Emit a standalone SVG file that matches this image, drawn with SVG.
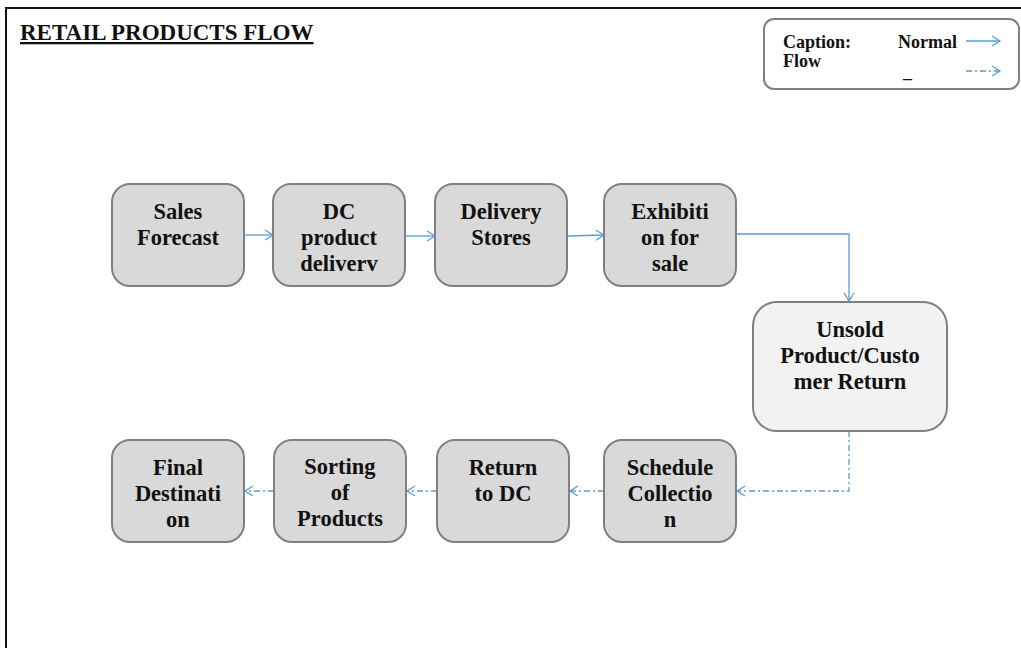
<svg xmlns="http://www.w3.org/2000/svg" width="1021" height="648" viewBox="0 0 1021 648">
<defs>
<style>
.node{fill:#d9d9d9;stroke:#808080;stroke-width:2}
.light{fill:#f2f2f2}
.t{font-family:"Liberation Serif","Times New Roman",serif;font-weight:bold;font-size:22.5px;fill:#111;text-anchor:middle}
.lg{font-family:"Liberation Serif","Times New Roman",serif;font-weight:bold;font-size:18px;fill:#111}
.c{fill:none;stroke:#5b9bd5;stroke-width:1.3}
.d{stroke-dasharray:6 3 2 3}
</style>
<marker id="ah" markerWidth="12" markerHeight="12" refX="10" refY="6" orient="auto" markerUnits="userSpaceOnUse">
<path d="M2,1 L10,6 L2,11" fill="none" stroke="#5b9bd5" stroke-width="1.3"/>
</marker>
</defs>
<rect width="1021" height="648" fill="#fff"/>
<path d="M6,648 V8 H1021" fill="none" stroke="#111" stroke-width="2"/>
<text x="20" y="40" class="lg" style="font-size:23px;text-decoration:underline">RETAIL PRODUCTS FLOW</text>
<g id="legend">
<rect x="764" y="19" width="255" height="70" rx="10" fill="#fff" stroke="#808080" stroke-width="2"/>
<text x="783" y="48" class="lg">Caption:</text>
<text x="783" y="67" class="lg">Flow</text>
<text x="898" y="48" class="lg">Normal</text>
<text x="903" y="78" class="lg">_</text>
<line x1="966" y1="41" x2="1000" y2="41" class="c" marker-end="url(#ah)"/>
<line x1="966" y1="71" x2="1000" y2="71" class="c d" marker-end="url(#ah)"/>
</g>
<g id="connectors">
<line x1="244" y1="235" x2="273" y2="235" class="c" marker-end="url(#ah)"/>
<line x1="405" y1="236" x2="435" y2="236" class="c" marker-end="url(#ah)"/>
<line x1="567" y1="236" x2="604" y2="235" class="c" marker-end="url(#ah)"/>
<path d="M736,234 H849 V301" class="c" marker-end="url(#ah)"/>
<path d="M849,431 V491 H737" class="c d" marker-end="url(#ah)"/>
<line x1="604" y1="491" x2="570" y2="491" class="c d" marker-end="url(#ah)"/>
<line x1="437" y1="491" x2="407" y2="491" class="c d" marker-end="url(#ah)"/>
<line x1="274" y1="491" x2="245" y2="491" class="c d" marker-end="url(#ah)"/>
</g>
<g id="sales-forecast">
<rect x="112" y="184" width="132" height="102" rx="18" class="node"/>
<text class="t" x="178" y="219">Sales</text>
<text class="t" x="178" y="245">Forecast</text>
</g>
<g id="dc-product-delivery">
<rect x="273" y="184" width="132" height="102" rx="18" class="node"/>
<text class="t" x="339" y="219">DC</text>
<text class="t" x="339" y="245">product</text>
<text class="t" x="339" y="271">deliverv</text>
</g>
<g id="delivery-stores">
<rect x="435" y="184" width="132" height="102" rx="18" class="node"/>
<text class="t" x="501" y="219">Delivery</text>
<text class="t" x="501" y="245">Stores</text>
</g>
<g id="exhibition">
<rect x="604" y="184" width="132" height="102" rx="18" class="node"/>
<text class="t" x="670" y="219">Exhibiti</text>
<text class="t" x="670" y="245">on for</text>
<text class="t" x="670" y="271">sale</text>
</g>
<g id="unsold">
<rect x="753" y="302" width="194" height="129" rx="24" class="node light"/>
<text class="t" x="850" y="337">Unsold</text>
<text class="t" x="850" y="363">Product/Custo</text>
<text class="t" x="850" y="389">mer Return</text>
</g>
<g id="schedule-collection">
<rect x="604" y="440" width="132" height="102" rx="18" class="node"/>
<text class="t" x="670" y="475">Schedule</text>
<text class="t" x="670" y="501">Collectio</text>
<text class="t" x="670" y="527">n</text>
</g>
<g id="return-to-dc">
<rect x="437" y="440" width="132" height="102" rx="18" class="node"/>
<text class="t" x="503" y="475">Return</text>
<text class="t" x="503" y="501">to DC</text>
</g>
<g id="sorting">
<rect x="274" y="440" width="132" height="102" rx="18" class="node"/>
<text class="t" x="340" y="474">Sorting</text>
<text class="t" x="340" y="500">of</text>
<text class="t" x="340" y="526">Products</text>
</g>
<g id="final-destination">
<rect x="112" y="440" width="132" height="102" rx="18" class="node"/>
<text class="t" x="178" y="475">Final</text>
<text class="t" x="178" y="501">Destinati</text>
<text class="t" x="178" y="527">on</text>
</g>
</svg>
